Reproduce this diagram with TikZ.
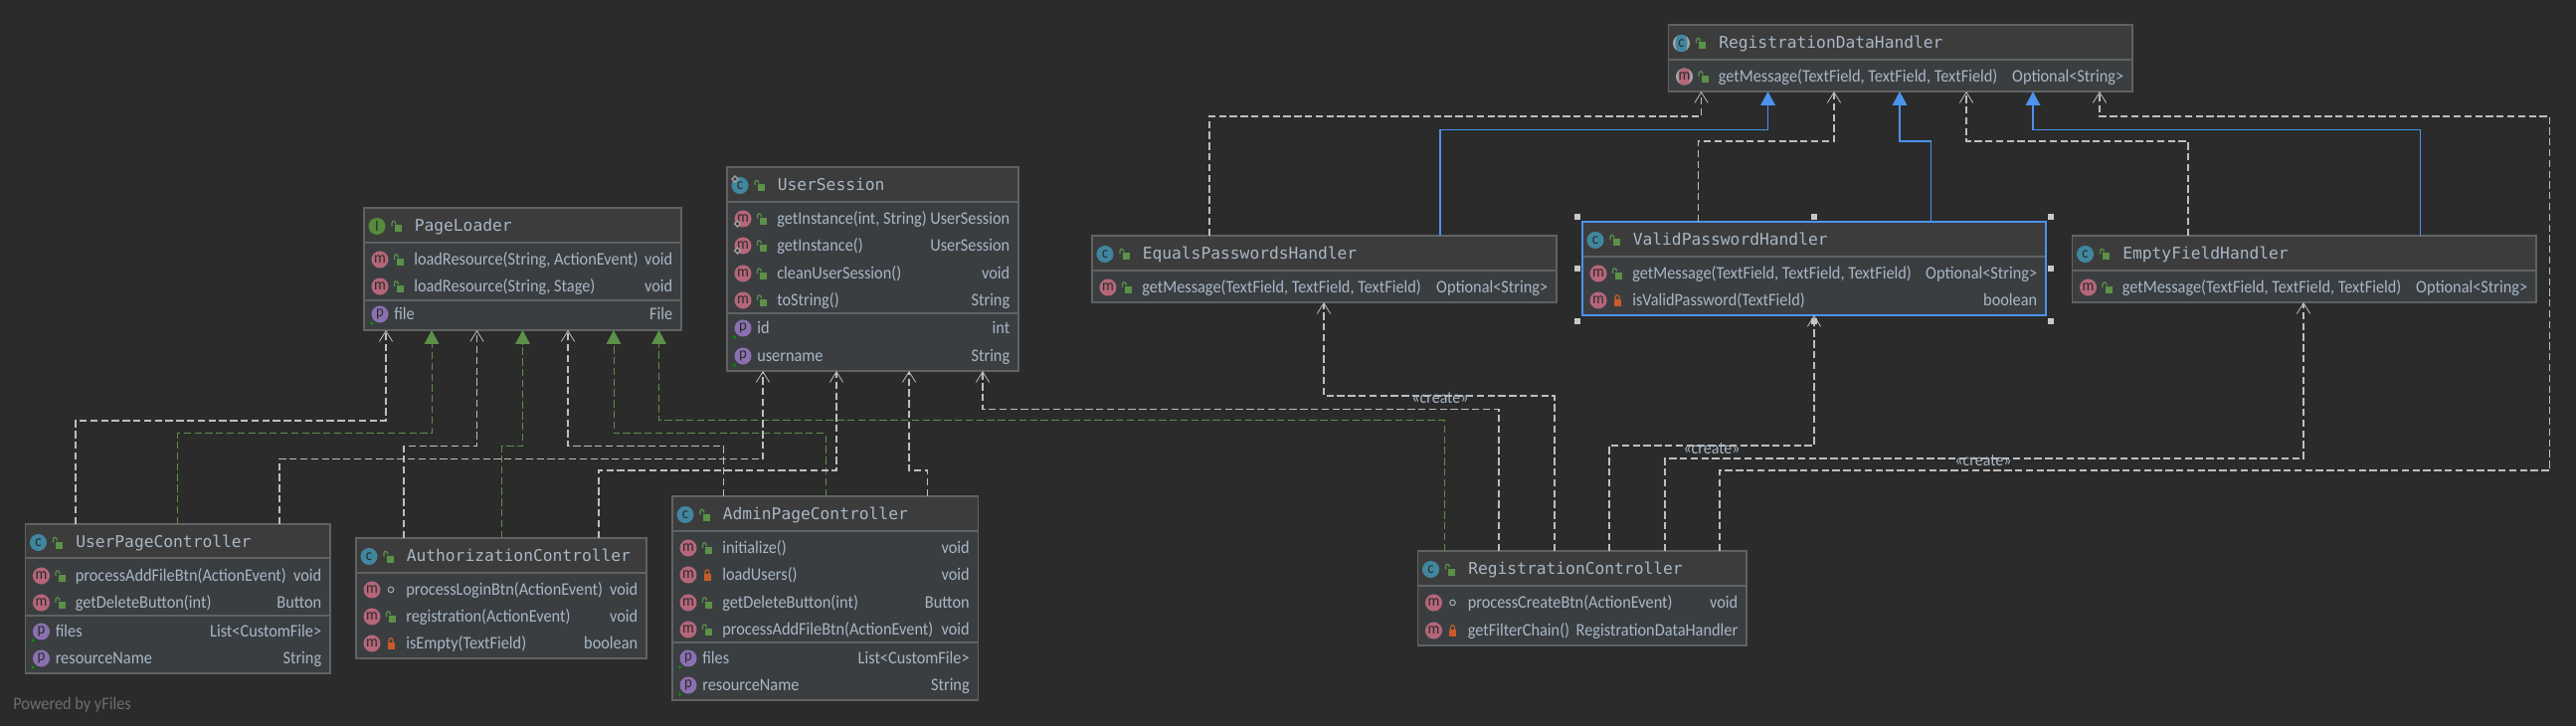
\documentclass[tikz,border=0pt]{standalone}
\usepackage{fontspec}
\setmainfont[FakeStretch=0.92]{Carlito}
\newfontfamily\titlefont{DejaVu Sans Mono}
\usetikzlibrary{arrows.meta}
\usetikzlibrary{calc}
\definecolor{bgcol}{HTML}{2B2B2B}
\definecolor{headcol}{HTML}{3C3C3C}
\definecolor{bodycol}{HTML}{3A3E41}
\definecolor{linecol}{HTML}{606263}
\definecolor{textcol}{HTML}{A9B7C6}
\definecolor{depcol}{HTML}{BEBEBE}
\definecolor{implcol}{HTML}{5C9148}
\definecolor{gencol}{HTML}{4C93EE}
\definecolor{ccol}{HTML}{40869F}
\definecolor{mcol}{HTML}{B5667A}
\definecolor{pcol}{HTML}{8A70B0}
\definecolor{icol}{HTML}{558B3B}
\definecolor{privcol}{HTML}{C75C28}
\definecolor{markcol}{HTML}{A4A4A4}
\definecolor{handlecol}{HTML}{C8C8C8}
\definecolor{poweredcol}{HTML}{6E6E6E}
% box: name, x0, y0, x1, y1, header height
\newcommand{\umlbox}[6]{
\node [classbox, minimum width={(#4-#2)*0.75pt}, minimum height={(#5-#3)*0.75pt}] (#1) at ({(#2+#4)/2},{(#3+#5)/2}) {};
\fill [headcol] (#1.north west) rectangle ($(#1.north east)+(0,#6)$);
\draw [sepline] ($(#1.north west)+(0,#6)$) -- ($(#1.north east)+(0,#6)$);
\draw [sepline] (#1.north west) rectangle (#1.south east);
}
\newcommand{\umlsep}[2]{\draw [sepline] ($(#1.north west)+(0,#2)$) -- ($(#1.north east)+(0,#2)$);}
\newcommand{\publock}[1]{
\coordinate (lk) at #1;
\fill [implcol] ($(lk)+(-2,-1)$) rectangle ($(lk)+(5,6)$);
\draw [implcol, line width=0.9pt] ($(lk)+(-4.5,0)$) -- ($(lk)+(-4.5,-3)$) .. controls ($(lk)+(-4.5,-6)$) and ($(lk)+(-0.5,-6)$) .. ($(lk)+(-0.5,-2)$);
}
\newcommand{\privlock}[1]{
\coordinate (lk) at #1;
\fill [privcol] ($(lk)+(-3.5,-1)$) rectangle ($(lk)+(3.5,6)$);
\draw [privcol, line width=0.9pt] ($(lk)+(-2,0)$) -- ($(lk)+(-2,-3)$) .. controls ($(lk)+(-2,-6)$) and ($(lk)+(2,-6)$) .. ($(lk)+(2,-3)$) -- ($(lk)+(2,0)$);
}
\newcommand{\packmark}[1]{\draw [markcol, line width=0.8pt] #1 circle (2.8);}
% title row: box, icon style, letter, text
\newcommand{\umltitle}[4]{
\node [#2] (#1icon) at ($(#1.north west)+(13,18.5)$) {#3};
\publock{($(#1.north west)+(32.5,18.5)$)}
\node [titletext] (#1title) at ($(#1.north west)+(50.5,20)$) {#4};
}
% method row: box, y offset, icon style, lock macro, text, type
\newcommand{\umlrow}[6]{
\node [#3] (#1icon#2) at ($(#1.north west)+(16,#2)$) {m};
#4{($(#1.north west)+(35,#2)$)}
\node [rowtext] (#1text#2) at ($(#1.north west)+(50,#2+2)$) {#5};
\node [typetext] (#1type#2) at ($(#1.north east)+(-8.5,#2+2)$) {#6};
}
% field row: box, y offset, text, type
\newcommand{\umlfield}[4]{
\node [iconp] (#1icon#2) at ($(#1.north west)+(16,#2)$) {p};
\fill [green!60!black] ($(#1.north west)+(7.5,#2+9)$) circle (1.7);
\node [rowtext] (#1text#2) at ($(#1.north west)+(30,#2+2)$) {#3};
\node [typetext] (#1type#2) at ($(#1.north east)+(-8.5,#2+2)$) {#4};
}
\newcommand{\umlpin}[3]{
\draw [markcol, fill=bodycol, line width=0.9pt] ($(#1.north west)+(#2-3,#3)$) -- ($(#1.north west)+(#2,#3-3)$) -- ($(#1.north west)+(#2+3,#3)$) -- ($(#1.north west)+(#2,#3+3)$) -- cycle;
}
\begin{document}
\begin{tikzpicture}[x=0.75pt,y=-0.75pt]
\tikzstyle{classbox}=[fill=bodycol,inner sep=0pt,outer sep=0pt]
\tikzstyle{sepline}=[linecol,line width=1pt]
\tikzstyle{iconball}=[circle,inner sep=0pt,minimum size=12.8pt,text=bgcol,font=\fontsize{12}{12}\selectfont]
\tikzstyle{iconc}=[iconball,fill=ccol]
\tikzstyle{iconm}=[iconball,fill=mcol]
\tikzstyle{iconp}=[iconball,fill=pcol]
\tikzstyle{iconi}=[iconball,fill=icol]
\tikzstyle{iconac}=[iconball,fill=markcol,path picture={\fill [ccol] (path picture bounding box.center) ellipse (6 and 10);}]
\tikzstyle{iconam}=[iconball,fill=markcol,path picture={\fill [mcol] (path picture bounding box.center) ellipse (6 and 10);}]
\tikzstyle{titletext}=[anchor=mid west,inner sep=0pt,text=textcol,font=\titlefont\fontsize{12.2}{14}\selectfont]
\tikzstyle{rowtext}=[anchor=mid west,inner sep=0pt,text=textcol,font=\fontsize{13.3}{14}\selectfont]
\tikzstyle{typetext}=[anchor=mid east,inner sep=0pt,text=textcol,font=\fontsize{13.3}{14}\selectfont]
\tikzstyle{createtext}=[inner sep=0pt,text=textcol,font=\fontsize{13}{14}\selectfont]
\tikzstyle{dep}=[depcol,line width=0.8pt,dash pattern=on 5.5pt off 2.6pt,-{Straight Barb[length=8pt,width=10pt,line width=0.6pt]}]
\tikzstyle{impl}=[implcol,line width=0.75pt,dash pattern=on 5.5pt off 2.6pt,-{Triangle[length=10.5pt,width=11pt]}]
\tikzstyle{gen}=[gencol,line width=1.1pt,-{Triangle[length=10.5pt,width=11pt]}]
\tikzstyle{handle}=[fill=handlecol,inner sep=0pt,minimum size=4.5pt]
\useasboundingbox [fill=bgcol] (0,0) rectangle (2590,730);
\umlbox{pageloader}{366}{209}{685}{332}{35}
\umlsep{pageloader}{93}
\umltitle{pageloader}{iconi}{I}{PageLoader}
\umlrow{pageloader}{52}{iconm}{\publock}{loadResource(String, ActionEvent)}{void}
\umlrow{pageloader}{79}{iconm}{\publock}{loadResource(String, Stage)}{void}
\umlfield{pageloader}{107}{file}{File}
\umlbox{session}{731}{168}{1024}{373}{35}
\umlsep{session}{147}
\umltitle{session}{iconc}{c}{UserSession}
\umlrow{session}{52}{iconm}{\publock}{getInstance(int, String)}{UserSession}
\umlrow{session}{79}{iconm}{\publock}{getInstance()}{UserSession}
\umlrow{session}{107}{iconm}{\publock}{cleanUserSession()}{void}
\umlrow{session}{134}{iconm}{\publock}{toString()}{String}
\umlfield{session}{162}{id}{int}
\umlfield{session}{190}{username}{String}
\umlpin{session}{8}{12}
\umlpin{session}{10.5}{57}
\umlpin{session}{10.5}{84}
\umlbox{upc}{25.5}{527}{332}{677}{34}
\umlsep{upc}{92}
\umltitle{upc}{iconc}{c}{UserPageController}
\umlrow{upc}{52}{iconm}{\publock}{processAddFileBtn(ActionEvent)}{void}
\umlrow{upc}{79}{iconm}{\publock}{getDeleteButton(int)}{Button}
\umlfield{upc}{108}{files}{List<CustomFile>}
\umlfield{upc}{135}{resourceName}{String}
\umlbox{auth}{358}{541}{650}{662}{35}
\umltitle{auth}{iconc}{c}{AuthorizationController}
\umlrow{auth}{52}{iconm}{\packmark}{processLoginBtn(ActionEvent)}{void}
\umlrow{auth}{79}{iconm}{\publock}{registration(ActionEvent)}{void}
\umlrow{auth}{106}{iconm}{\privlock}{isEmpty(TextField)}{boolean}
\umlbox{admin}{676}{499}{983.5}{704}{35}
\umlsep{admin}{147}
\umltitle{admin}{iconc}{c}{AdminPageController}
\umlrow{admin}{52}{iconm}{\publock}{initialize()}{void}
\umlrow{admin}{79}{iconm}{\privlock}{loadUsers()}{void}
\umlrow{admin}{107}{iconm}{\publock}{getDeleteButton(int)}{Button}
\umlrow{admin}{134}{iconm}{\publock}{processAddFileBtn(ActionEvent)}{void}
\umlfield{admin}{163}{files}{List<CustomFile>}
\umlfield{admin}{190}{resourceName}{String}
\umlbox{rdh}{1677.5}{25}{2144}{92}{35}
\umltitle{rdh}{iconac}{c}{RegistrationDataHandler}
\umlrow{rdh}{52}{iconam}{\publock}{getMessage(TextField, TextField, TextField)}{Optional<String>}
\umlbox{equals}{1098}{237}{1565}{304}{35}
\umltitle{equals}{iconc}{c}{EqualsPasswordsHandler}
\umlrow{equals}{52}{iconm}{\publock}{getMessage(TextField, TextField, TextField)}{Optional<String>}
% selected one has handles round it
\foreach \hname/\ax/\ay in {nw/-1/-1,nn/0/-1,ne/1/-1,ww/-1/0,ee/1/0,sw/-1/1,ss/0/1,se/1/1} {
\node [handle] (handle\hname) at ({1824+\ax*238},{270.5+\ay*52.5}) {};
}
\umlbox{valid}{1591}{223}{2057}{317}{35}
\draw [gencol,line width=0.8pt] (valid.north west) rectangle (valid.south east);
\umltitle{valid}{iconc}{c}{ValidPasswordHandler}
\umlrow{valid}{52}{iconm}{\publock}{getMessage(TextField, TextField, TextField)}{Optional<String>}
\umlrow{valid}{79}{iconm}{\privlock}{isValidPassword(TextField)}{boolean}
\umlbox{empty}{2083.5}{237}{2550}{304}{35}
\umltitle{empty}{iconc}{c}{EmptyFieldHandler}
\umlrow{empty}{52}{iconm}{\publock}{getMessage(TextField, TextField, TextField)}{Optional<String>}
\umlbox{reg}{1425.5}{554}{1756}{649}{35}
\umltitle{reg}{iconc}{c}{RegistrationController}
\umlrow{reg}{52}{iconm}{\packmark}{processCreateBtn(ActionEvent)}{void}
\umlrow{reg}{80}{iconm}{\privlock}{getFilterChain()}{RegistrationDataHandler}
% arrows to PageLoader
\draw [dep] ($(upc.north west)+(50.5,0)$) -- ++(0,-104) -| ($(pageloader.south west)+(22,0)$);
\draw [impl] ($(upc.north west)+(153,0)$) -- ++(0,-91) -| ($(pageloader.south west)+(68,0)$);
\draw [dep] ($(auth.north west)+(48,0)$) -- ++(0,-92.5) -| ($(pageloader.south west)+(113.5,0)$);
\draw [impl] ($(auth.north west)+(146.5,0)$) -- ++(0,-92.5) -| ($(pageloader.south west)+(159.5,0)$);
\draw [dep] ($(admin.north west)+(51.7,0)$) -- ++(0,-50.5) -| ($(pageloader.south west)+(205,0)$);
\draw [impl] ($(admin.north west)+(154,0)$) -- ++(0,-63) -| ($(pageloader.south west)+(251,0)$);
\draw [impl] ($(reg.north west)+(26.5,0)$) -- ++(0,-131) -| ($(pageloader.south west)+(296.5,0)$);
% arrows to UserSession
\draw [dep] ($(upc.north west)+(255.5,0)$) -- ++(0,-65.5) -| ($(session.south west)+(36,0)$);
\draw [dep] ($(auth.north west)+(244,0)$) -- ++(0,-68) -| ($(session.south west)+(110,0)$);
\draw [dep] ($(admin.north west)+(256.6,0)$) -- ++(0,-26) -| ($(session.south west)+(183,0)$);
\draw [dep] ($(reg.north west)+(81.5,0)$) -- ++(0,-142.3) -| ($(session.south west)+(257,0)$);
% created handlers
\draw [dep] ($(reg.north west)+(137.5,0)$) -- ++(0,-156) -| ($(equals.south west)+(233,0)$);
\draw [dep] ($(reg.north west)+(192.5,0)$) -- ++(0,-106) -| ($(valid.south west)+(233,0)$);
\draw [dep] ($(reg.north west)+(248.5,0)$) -- ++(0,-93) -| ($(empty.south west)+(232.5,0)$);
\draw [dep] ($(reg.north west)+(303.5,0)$) -- ++(0,-81) -- ++(834.5,0) -- ++(0,-356) -| ($(rdh.south west)+(433.5,0)$);
\node [createtext] (createa) at ($(reg.north west)+(22.5,-154)$) {«create»};
\node [createtext] (createb) at ($(reg.north west)+(295.5,-103)$) {«create»};
\node [createtext] (createc) at ($(reg.north west)+(568.5,-91)$) {«create»};
% arrows to RegistrationDataHandler
\draw [dep] ($(equals.north west)+(118,0)$) -- ++(0,-120) -| ($(rdh.south west)+(33,0)$);
\draw [gen] ($(equals.north west)+(350,0)$) -- ++(0,-106.3) -| ($(rdh.south west)+(100,0)$);
\draw [dep] ($(valid.north west)+(116.5,0)$) -- ++(0,-81) -| ($(rdh.south west)+(166.5,0)$);
\draw [gen] ($(valid.north west)+(350.5,0)$) -- ++(0,-81) -| ($(rdh.south west)+(232.5,0)$);
\draw [dep] ($(empty.north west)+(116.5,0)$) -- ++(0,-95) -| ($(rdh.south west)+(299.5,0)$);
\draw [gen] ($(empty.north west)+(350,0)$) -- ++(0,-106.3) -| ($(rdh.south west)+(366.5,0)$);
\node [anchor=mid west,inner sep=0pt,text=poweredcol,font=\fontsize{13.3}{14}\selectfont] (powered) at (13,710) {Powered by yFiles};
\end{tikzpicture}
\end{document}
